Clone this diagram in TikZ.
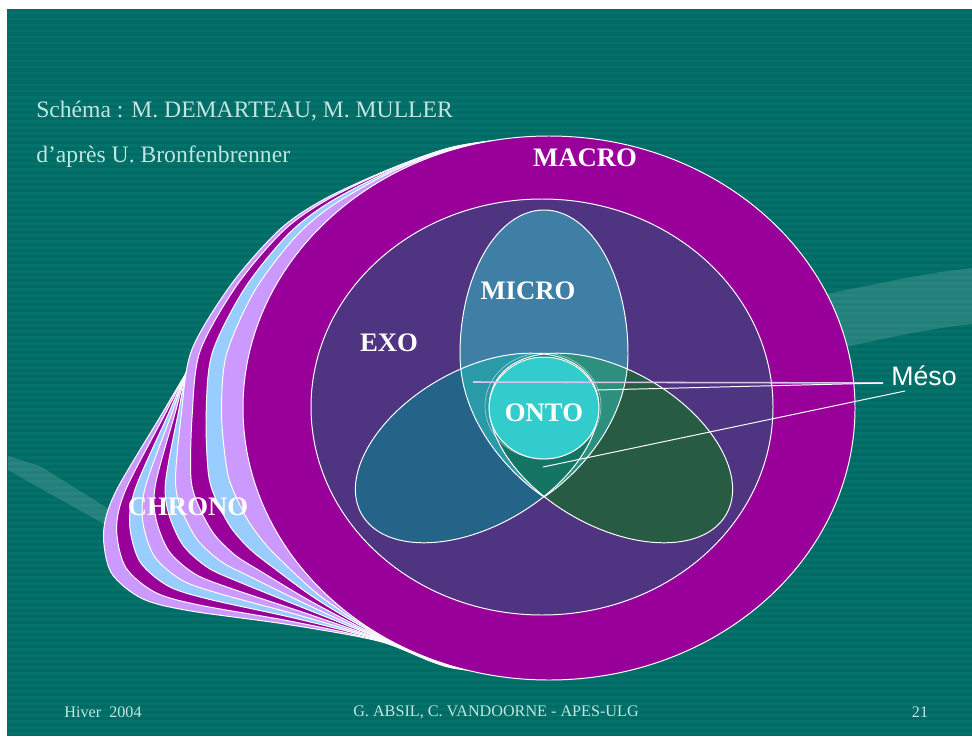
\documentclass[tikz,border=0pt]{standalone}
\usepackage{fontspec}
\usetikzlibrary{shapes.geometric}
\setmainfont{Liberation Serif}
\newfontfamily\mesofont{Liberation Sans}

\definecolor{slide}{HTML}{006B64}
\definecolor{stripe}{HTML}{04716A}
\definecolor{plum}{HTML}{990099}
\definecolor{lilac}{HTML}{CC99FF}
\definecolor{sky}{HTML}{99CCFF}
\definecolor{exo}{HTML}{4E3481}
\definecolor{micro}{HTML}{3F7FA6}
\definecolor{tiltl}{HTML}{256489}
\definecolor{tiltr}{HTML}{285B44}
\definecolor{mixml}{HTML}{2A9AA9}
\definecolor{mixmr}{HTML}{2D8F7E}
\definecolor{mixlr}{HTML}{147565}
\definecolor{onto}{HTML}{33CCCC}
\definecolor{textc}{HTML}{C0E6E0}
\definecolor{leadlilac}{HTML}{D6C6EC}

\tikzset{ring/.style={draw=white, line width=0.7}}
\tikzset{lbl/.style={text=white, font=\bfseries\fontsize{19}{22}\selectfont}}
\tikzset{title/.style={text=textc, font=\fontsize{16.8}{20}\selectfont, inner sep=0pt}}
\tikzset{foot/.style={text=textc, font=\fontsize{11.5}{13}\selectfont, inner sep=0pt}}
\tikzset{lead/.style={draw=white, line width=0.7}}
\tikzset{swoosh/.style={fill=white, opacity=0.14}}
\tikzset{lefttilt/.style={rotate around={30:(477,448)}}}
\tikzset{righttilt/.style={rotate around={-30:(611,448)}}}
\def \nrings {10}
\def \microshape {(628,354) arc[start angle=0, end angle=-180, x radius=84, y radius=144] .. controls (460,425) and (515,478) .. (544,497) .. controls (573,478) and (628,425) .. (628,354) -- cycle}

% one layer of the chrono stack: #1 = spread low on the left, #2 = spread high on the left
\newcommand{\chronoring}[3]{%
  \draw[ring, fill=#3, shift={(549,408)}] plot[smooth cycle] coordinates {
    (-96:270) (-110:{275+#2*3}) (-123.5:{281+#2*6}) (-137:{289+#1*4+#2*16})
    (-146.4:{294+#1*10+#2*25}) (-158.6:{301+#1*22+#2*31}) (-170.8:{305+#1*45+#2*39})
    (-181.3:{306+#1*80+#2*30}) (-191:{304.5+#1*135+#2*22}) (-195.6:{303+#1*158+#2*15})
    (-200.6:{301+#1*166+#2*8}) (-205.1:{299+#1*150+#2*3}) (-209.4:{297+#1*116})
    (-219.7:{291+#1*48}) (-234.2:{282+#1*6}) (-250:{273+#1*4})
    (-270:262) (-300:268) (-330:285) (-360:294) (-390:283) (-420:268) (-440:262)};
}

\begin{document}
\begin{tikzpicture}[x=0.025cm, y=-0.025cm]

    \useasboundingbox (0,0) rectangle (972,736);
    \fill[white] (0,0) rectangle (972,736);
    \fill[slide] (7,9) rectangle (972,736);
    \foreach \y in {12,18,...,732} {
    \fill[stripe] (7,\y) rectangle (972,\y+2.5);
    }

    % background swooshes
    \fill[swoosh] (760,305) .. controls (850,292) and (900,276) .. (972,268) -- (972,324) .. controls (900,332) and (850,348) .. (760,365) -- cycle;
    \fill[swoosh] (8,456) -- (40,466) -- (112,511) -- (104,524) -- (22,478) -- (8,470) -- cycle;

    % chrono: stacked layers, back to front
    \foreach \k/\u/\col in {10/0.1/lilac,9/0.25/plum,8/0.4/sky,7/0.55/lilac,6/0.7/plum,5/0.85/sky,4/1/lilac,3/0.9/plum,2/0.7/sky,1/0.45/lilac} {
    \pgfmathsetmacro\t{\k/\nrings}
    \chronoring{\t}{\u}{\col}
    }

    % macro and exo
    \draw[ring, fill=plum] (549,408) ellipse [x radius=306, y radius=272];
    \draw[ring, fill=exo] (542,407) ellipse [x radius=231, y radius=208];

    % micro and the two tilted systems
    \fill[micro] \microshape;
    \fill[tiltl, lefttilt] (477,448) ellipse [x radius=133, y radius=78];
    \fill[tiltr, righttilt] (611,448) ellipse [x radius=133, y radius=78];
    \begin{scope}
    \clip \microshape;
    \fill[mixml, lefttilt] (477,448) ellipse [x radius=133, y radius=78];
    \fill[mixmr, righttilt] (611,448) ellipse [x radius=133, y radius=78];
    \end{scope}
    \begin{scope}
    \clip[lefttilt] (477,448) ellipse [x radius=133, y radius=78];
    \fill[mixlr, righttilt] (611,448) ellipse [x radius=133, y radius=78];
    \end{scope}
    \draw[ring] \microshape;
    \draw[ring, lefttilt] (477,448) ellipse [x radius=133, y radius=78];
    \draw[ring, righttilt] (611,448) ellipse [x radius=133, y radius=78];

    % onto
    \draw[draw=white, opacity=0.5, line width=0.5] (543,406) ellipse [x radius=58, y radius=53];
    \node[ellipse, minimum width=110*0.025cm, minimum height=102*0.025cm, ring, fill=onto] (ontoc) at (544,408) {};

    % labels
    \node[lbl] (macro) at (585,158) {MACRO};
    \node[lbl] (exo) at (389,343) {EXO};
    \node[lbl] (micro) at (528,291) {MICRO};
    \node[lbl] (onto) at (544,413) {ONTO};
    \node[lbl] (chrono) at (188,507) {CHRONO};
    \node[text=white, font=\mesofont\fontsize{19}{22}\selectfont] (meso) at (924,376) {Méso};

    % meso leads
    \coordinate (mA) at (883,383);
    \coordinate (mB) at (905,391);
    \coordinate (m1) at (473,382);
    \coordinate (m2) at (597,390);
    \coordinate (m3) at (543,467);
    \draw[lead, draw=leadlilac, line width=1.1] (mA) -- (m1);
    \draw[lead] (mA) -- (m2);
    \draw[lead] (mB) -- (m3);

    % texts of the slide
    \node[title, anchor=base west] (credit) at (36,117) {Schéma : M. DEMARTEAU, M. MULLER};
    \node[title, anchor=base west] (source) at (36,162) {d’après U. Bronfenbrenner};
    \node[foot] (season) at (103,712) {Hiver\ \ 2004};
    \node[foot] (authors) at (496,712) {G. ABSIL, C. VANDOORNE - APES-ULG};
    \node[foot] (page) at (920,712) {21};

\end{tikzpicture}
\end{document}
